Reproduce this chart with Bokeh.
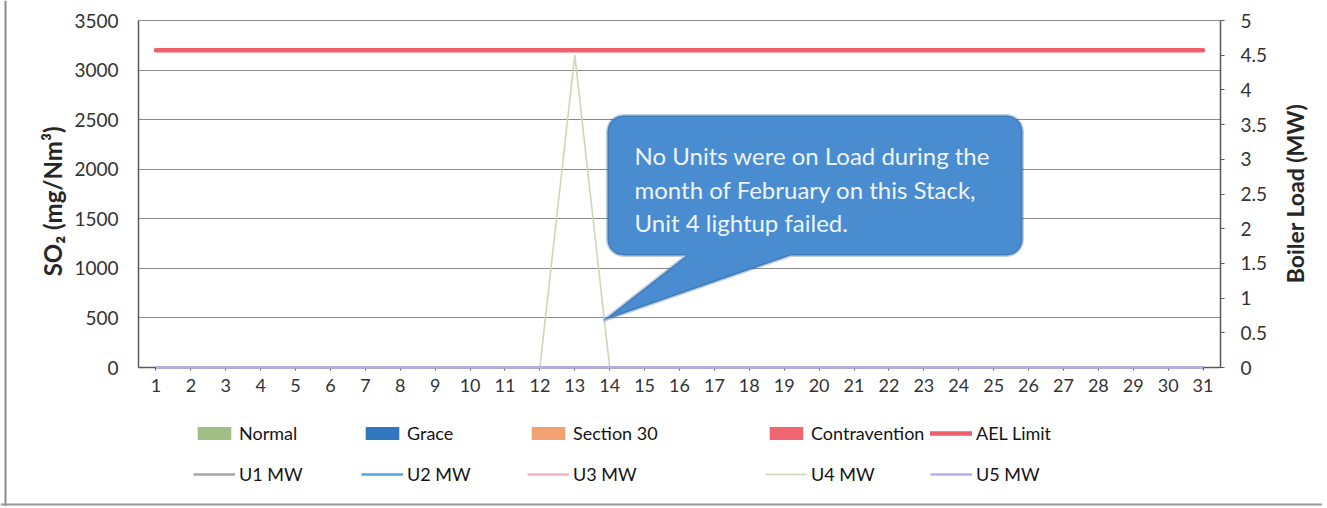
import numpy as np
from bokeh.plotting import figure
from bokeh.models import (Range1d, LinearAxis, FixedTicker, Legend, LegendItem, Span,
                          ColumnDataSource, PolyAnnotation, Label, CustomJSTickFormatter)
from bokeh.embed import file_html
from bokeh.resources import INLINE

# ---------------- data ----------------
days = [1, 2, 3, 4, 5, 6, 7, 8, 9, 10, 11, 12, 13, 14, 15, 16,
        17, 18, 19, 20, 21, 22, 23, 24, 25, 26, 27, 28, 29, 30, 31]

normal = [0, 0, 0, 0, 0, 0, 0, 0, 0, 0, 0, 0, 0, 0, 0, 0, 0, 0, 0, 0, 0, 0, 0, 0, 0, 0, 0, 0, 0, 0, 0]
grace = [0, 0, 0, 0, 0, 0, 0, 0, 0, 0, 0, 0, 0, 0, 0, 0, 0, 0, 0, 0, 0, 0, 0, 0, 0, 0, 0, 0, 0, 0, 0]
section30 = [0, 0, 0, 0, 0, 0, 0, 0, 0, 0, 0, 0, 0, 0, 0, 0, 0, 0, 0, 0, 0, 0, 0, 0, 0, 0, 0, 0, 0, 0, 0]
contravention = [0, 0, 0, 0, 0, 0, 0, 0, 0, 0, 0, 0, 0, 0, 0, 0, 0, 0, 0, 0, 0, 0, 0, 0, 0, 0, 0, 0, 0, 0, 0]
ael_limit = [3200, 3200, 3200, 3200, 3200, 3200, 3200, 3200, 3200, 3200, 3200, 3200, 3200, 3200, 3200, 3200,
             3200, 3200, 3200, 3200, 3200, 3200, 3200, 3200, 3200, 3200, 3200, 3200, 3200, 3200, 3200]

u1_mw = [0, 0, 0, 0, 0, 0, 0, 0, 0, 0, 0, 0, 0, 0, 0, 0, 0, 0, 0, 0, 0, 0, 0, 0, 0, 0, 0, 0, 0, 0, 0]
u2_mw = [0, 0, 0, 0, 0, 0, 0, 0, 0, 0, 0, 0, 0, 0, 0, 0, 0, 0, 0, 0, 0, 0, 0, 0, 0, 0, 0, 0, 0, 0, 0]
u3_mw = [0, 0, 0, 0, 0, 0, 0, 0, 0, 0, 0, 0, 0, 0, 0, 0, 0, 0, 0, 0, 0, 0, 0, 0, 0, 0, 0, 0, 0, 0, 0]
u4_mw = [0, 0, 0, 0, 0, 0, 0, 0, 0, 0, 0, 0, 4.5, 0, 0, 0, 0, 0, 0, 0, 0, 0, 0, 0, 0, 0, 0, 0, 0, 0, 0]
u5_mw = [0, 0, 0, 0, 0, 0, 0, 0, 0, 0, 0, 0, 0, 0, 0, 0, 0, 0, 0, 0, 0, 0, 0, 0, 0, 0, 0, 0, 0, 0, 0]

so2_ticks = [0, 500, 1000, 1500, 2000, 2500, 3000, 3500]
mw_ticks = [0, 0.5, 1, 1.5, 2, 2.5, 3, 3.5, 4, 4.5, 5]
so2_max = 3500
mw_max = 5

callout_text = ["No Units were on Load during the",
                "month of February on this Stack,",
                "Unit 4 lightup failed."]
so2_title = "SO\u2082  (mg/Nm\u00b3)"
mw_title = "Boiler Load (MW)"

# ---------------- geometry (page pixels) ----------------
FONT = "Lato"
AXIS_COL = "#595959"
TXT_COL = "#333333"

FIG_X = 0.0
W, H = 1322, 506
PLOT_L, PLOT_R, PLOT_T, PLOT_B = 138.0, 1220.0, 20.0, 367.0
X_PX = (PLOT_R - PLOT_L) / len(days)
Y_PX = (PLOT_B - PLOT_T) / so2_max
x_start = 1 - (PLOT_L + X_PX / 2 - FIG_X) / X_PX
x_end = x_start + W / X_PX
y_start = -(H - PLOT_B) / Y_PX
y_end = so2_max + PLOT_T / Y_PX
mw_k = mw_max / so2_max


def to_data(px, py):
    return x_start + (px - FIG_X) / X_PX, (PLOT_B - py) / Y_PX


src = ColumnDataSource(dict(day=days, normal=normal, grace=grace, section30=section30,
                            contravention=contravention, ael=ael_limit,
                            u1=u1_mw, u2=u2_mw, u3=u3_mw, u4=u4_mw, u5=u5_mw))

p = figure(width=W, height=H, x_range=Range1d(x_start, x_end),
           y_range=Range1d(y_start, y_end), output_backend="svg", toolbar_location=None,
           min_border=0)
p.outline_line_color = None
p.extra_y_ranges = {"mw": Range1d(y_start * mw_k, y_end * mw_k)}

x_lo, x_hi = days[0] - 0.5, days[-1] + 0.5

# chart-area border (left and bottom edges of the pasted chart)
bx, by = to_data(5.0, 504.0)
p.add_layout(Span(location=bx, dimension="height", line_color="#8a8a8a", line_width=2))
p.add_layout(Span(location=by, dimension="width", line_color="#9a9a9a", line_width=2))

# gridlines
p.xgrid.grid_line_color = None
p.ygrid.ticker = FixedTicker(ticks=so2_ticks)
p.ygrid.grid_line_color = "#8a8a8a"
p.ygrid.grid_line_width = 1
try:
    p.ygrid.cross_bounds = (x_lo, x_hi)
except Exception:
    p.ygrid.grid_line_color = None
    p.segment(x0=[x_lo] * len(so2_ticks), x1=[x_hi] * len(so2_ticks), y0=so2_ticks, y1=so2_ticks,
              line_color="#8a8a8a", line_width=1)

# bars (stacked categories)
bar_cols = ["normal", "grace", "section30", "contravention"]
bar_colors = ["#9fbf85", "#2f78bf", "#f4a172", "#ef6670"]
bars = p.vbar_stack(bar_cols, x="day", width=0.6, color=bar_colors, line_color=None, source=src)

# AEL limit
ael_r = p.line("day", "ael", source=src, line_color="#ee5f68", line_width=4.5, line_cap="round")

# unit loads on secondary axis
u_cols = ["u1", "u2", "u3", "u4", "u5"]
u_colors = ["#a6a6a6", "#4ea9e0", "#f5b3c8", "#cdd6b8", "#b3aeea"]
u_widths = [2.5, 2.5, 2.5, 1.6, 2.5]
u_rs = []
for c, col, lw in zip(u_cols, u_colors, u_widths):
    u_rs.append(p.line("day", c, source=src, y_range_name="mw", line_color=col, line_width=lw))
u_rs[4].level = "overlay"   # the lavender zero line shows above the category axis

# axes (drawn at fixed data locations)
yl = p.yaxis[0]
yl.fixed_location = x_lo
yl.bounds = (0, so2_max)
yl.ticker = FixedTicker(ticks=so2_ticks)
yl.major_tick_out = 0
yl.major_tick_in = 0
yl.major_label_standoff = 20

yr = LinearAxis(y_range_name="mw", ticker=FixedTicker(ticks=mw_ticks),
                formatter=CustomJSTickFormatter(code="return String(tick)"))
yr.fixed_location = x_hi
yr.bounds = (0, mw_max)
yr.major_tick_out = 4
yr.major_tick_in = 0
yr.major_label_standoff = 16
p.add_layout(yr, "right")

xa = p.xaxis[0]
xa.fixed_location = 0
xa.bounds = (x_lo, x_hi)
xa.ticker = FixedTicker(ticks=days)
xa.major_tick_out = 3
xa.major_tick_in = 0
xa.major_label_standoff = 8

for ax in (yl, yr, xa):
    ax.minor_tick_out = 0
    ax.minor_tick_in = 0
    ax.axis_line_color = AXIS_COL
    ax.axis_line_width = 1.5
    ax.major_tick_line_color = AXIS_COL
    ax.major_label_text_font = FONT
    ax.major_label_text_color = TXT_COL
yl.major_label_text_font_size = "19px"
yr.major_label_text_font_size = "19px"
xa.major_label_text_font_size = "18px"

# axis titles (both read bottom-to-top)
for txt, (px, py), fs in ((so2_title, (52.0, 198.0), "24px"), (mw_title, (1294.0, 193.0), "23px")):
    tx, ty = to_data(px, py)
    p.add_layout(Label(x=tx, y=ty, text=txt, angle=np.pi / 2, text_align="center",
                       text_baseline="middle", text_font=FONT, text_font_size=fs,
                       text_font_style="bold", text_color="#262626"))

# ---------------- legend (5 columns x 2 rows) ----------------
legend_cols = [
    [("Normal", bars[0]), ("U1 MW", u_rs[0])],
    [("Grace", bars[1]), ("U2 MW", u_rs[1])],
    [("Section 30", bars[2]), ("U3 MW", u_rs[2])],
    [("Contravention", bars[3]), ("U4 MW", u_rs[3])],
    [("AEL Limit", ael_r), ("U5 MW", u_rs[4])],
]
col_px = [193.0, 361.0, 527.0, 765.0, 930.0]
legend_bottom_px = 485.0
for items, cx in zip(legend_cols, col_px):
    leg = Legend(items=[LegendItem(label=t, renderers=[r]) for t, r in items],
                 location=(cx - FIG_X, H - legend_bottom_px), orientation="vertical",
                 padding=0, margin=0, border_line_alpha=0, background_fill_alpha=0,
                 glyph_width=42, glyph_height=16, label_height=16, spacing=19,
                 label_standoff=4, label_text_font=FONT, label_text_font_size="18px",
                 label_text_color="#141414")
    p.add_layout(leg, "center")

# ---------------- callout ----------------
L, R, T, B, rad = 607.0, 1022.0, 115.0, 255.0, 16.0
tip = (603.0, 320.0)
base1, base2 = 686.0, 790.0
pts = []


def arc(cx, cy, a0, a1):
    for a in np.linspace(np.radians(a0), np.radians(a1), 8):
        pts.append((cx + rad * np.cos(a), cy + rad * np.sin(a)))


arc(L + rad, T + rad, 180, 270)
arc(R - rad, T + rad, 270, 360)
arc(R - rad, B - rad, 0, 90)
pts.append((base2, B))
pts.append(tip)
pts.append((base1, B))
arc(L + rad, B - rad, 90, 180)
xs, ys = zip(*[to_data(a, b) for a, b in pts])
p.add_layout(PolyAnnotation(xs=list(xs), ys=list(ys), fill_color="#4a8cd0", fill_alpha=1.0,
                            line_color="#2a5d91", line_width=3))

line_y = [155.0, 188.5, 222.0]
for txt, ly in zip(callout_text, line_y):
    tx, ty = to_data(634.0, ly)
    p.add_layout(Label(x=tx, y=ty, text=txt, text_font=FONT, text_font_size="24px",
                       text_color="#eef4fb", text_baseline="middle", text_align="left"))

open("out.html", "w").write(file_html(p, INLINE))
